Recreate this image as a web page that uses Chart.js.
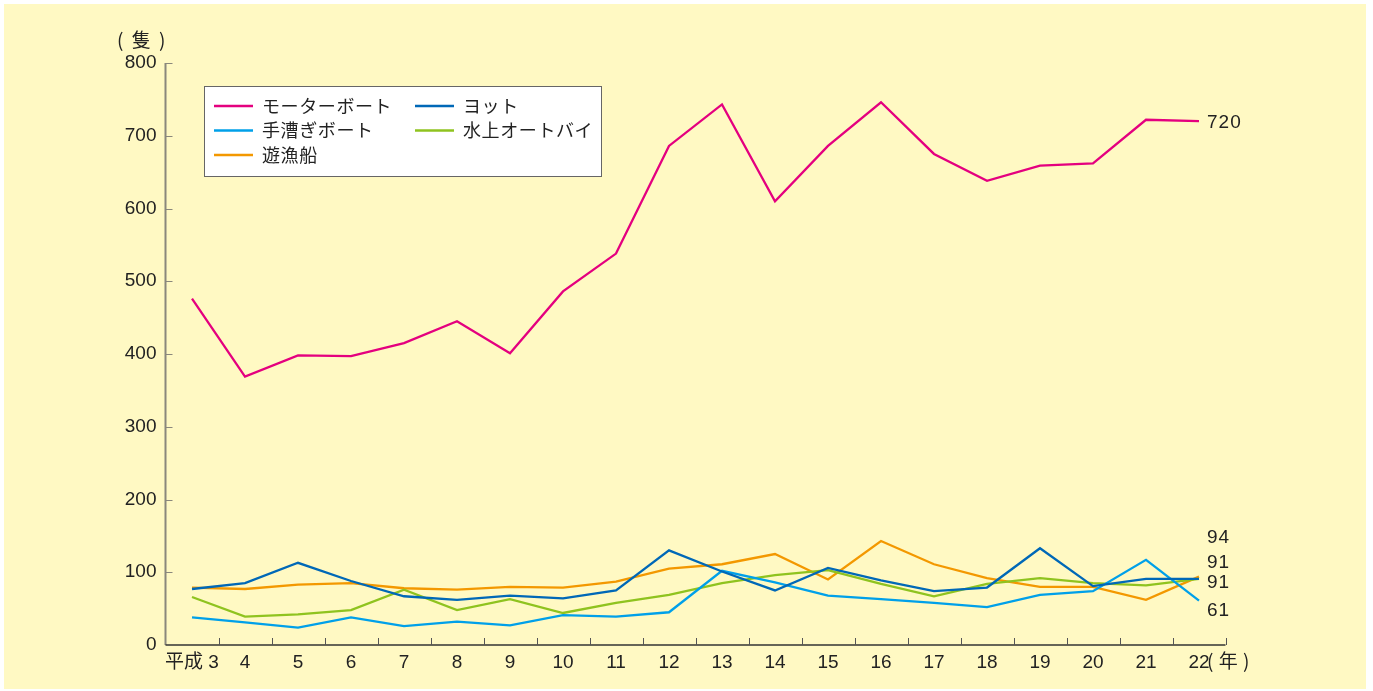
<!DOCTYPE html>
<html lang="ja">
<head>
  <meta charset="UTF-8">
  <title>船舶数の推移</title>
  <script src="https://cdn.jsdelivr.net/npm/chart.js"></script>
  <style>
    body { margin: 0; background: #fff; }
    #wrap { width: 1373px; height: 691px; }
  </style>
</head>
<body>
  <div id="wrap"><canvas id="boatChart" width="1373" height="691"></canvas></div>

  <script>
    // 年（平成）
    const years = ['平成 3', '4', '5', '6', '7', '8', '9', '10', '11', '12', '13', '14', '15', '16', '17', '18', '19', '20', '21', '22'];

    // 隻数
    const motorBoat = [476, 369, 398, 397, 415, 445, 401, 486, 538, 686, 743, 610, 686, 746, 675, 638, 659, 662, 722, 720];
    const yacht     = [77, 85, 113, 88, 67, 62, 68, 64, 75, 130, 101, 75, 106, 89, 74, 79, 133, 81, 91, 91];
    const rowBoat   = [38, 31, 24, 38, 26, 32, 27, 41, 39, 45, 102, 86, 68, 63, 58, 52, 69, 74, 117, 61];
    const jetSki    = [66, 39, 42, 48, 76, 48, 63, 44, 58, 69, 85, 96, 103, 84, 67, 84, 92, 85, 82, 91];
    const fishing   = [79, 77, 83, 85, 78, 76, 80, 79, 87, 105, 111, 125, 90, 143, 111, 92, 80, 80, 62, 94];

    const yTicks = [0, 100, 200, 300, 400, 500, 600, 700, 800];

    const numFont = "'Liberation Sans', 'Noto Sans CJK JP', sans-serif";
    const jpFont = "'Noto Sans CJK JP', 'Liberation Sans', sans-serif";

    // 背景
    const bgPlugin = {
      id: 'bg',
      beforeDraw(chart) {
        const ctx = chart.ctx;
        ctx.save();
        ctx.fillStyle = '#ffffff';
        ctx.fillRect(0, 0, chart.width, chart.height);
        ctx.fillStyle = '#fff9c3';
        ctx.fillRect(4, 4, 1362, 685);
        ctx.restore();
      }
    };

    // 軸線と内向きの目盛り
    const axisPlugin = {
      id: 'axisTicks',
      afterDatasetsDraw(chart) {
        const ctx = chart.ctx;
        const x = chart.scales.x, y = chart.scales.y;
        ctx.save();
        // y軸
        ctx.strokeStyle = '#8a887c';
        ctx.lineWidth = 2;
        ctx.beginPath();
        ctx.moveTo(x.left, y.top);
        ctx.lineTo(x.left, y.bottom);
        ctx.stroke();
        ctx.lineWidth = 1;
        yTicks.forEach(v => {
          if (v === 0) return;
          const py = Math.round(y.getPixelForValue(v)) + 0.5;
          ctx.beginPath();
          ctx.moveTo(x.left, py);
          ctx.lineTo(x.left + 7, py);
          ctx.stroke();
        });
        // x軸
        ctx.strokeStyle = '#333333';
        ctx.lineWidth = 1.5;
        ctx.beginPath();
        ctx.moveTo(x.left, y.bottom);
        ctx.lineTo(x.right, y.bottom);
        ctx.stroke();
        ctx.lineWidth = 1;
        ctx.strokeStyle = '#555555';
        const half = (x.getPixelForValue(1) - x.getPixelForValue(0)) / 2;
        years.forEach((_, i) => {
          const px = Math.round(x.getPixelForValue(i) + half) + 0.5;
          ctx.beginPath();
          ctx.moveTo(px, y.bottom);
          ctx.lineTo(px, y.bottom - 7);
          ctx.stroke();
        });
        ctx.restore();
      }
    };

    // 凡例・単位・末尾の値
    const labelPlugin = {
      id: 'labels',
      afterDraw(chart) {
        const ctx = chart.ctx;
        ctx.save();
        ctx.fillStyle = '#222';
        ctx.textBaseline = 'middle';
        ctx.textAlign = 'left';

        ctx.font = '19px ' + jpFont;
        ctx.letterSpacing = '2px';
        ctx.fillText('( 隻 )', 117, 40);
        ctx.letterSpacing = '0.5px';
        ctx.fillText('( 年 )', 1207, 661);

        // 末尾の値
        const offsets = [2, 4, 10, -16, -39];
        ctx.letterSpacing = '1px';
        ctx.font = '19px ' + numFont;
        chart.data.datasets.forEach((ds, i) => {
          const meta = chart.getDatasetMeta(i);
          const pt = meta.data[meta.data.length - 1];
          ctx.fillText(String(ds.data[ds.data.length - 1]), pt.x + 8, pt.y + offsets[i]);
        });

        // 凡例
        ctx.fillStyle = '#ffffff';
        ctx.fillRect(204, 86, 397, 90);
        ctx.strokeStyle = '#666';
        ctx.lineWidth = 1;
        ctx.strokeRect(204.5, 86.5, 397, 90);
        ctx.font = '18px ' + jpFont;
        ctx.letterSpacing = '0.6px';
        chart.data.datasets.forEach((ds, i) => {
          const col = i % 2, row = Math.floor(i / 2);
          const lx = col === 0 ? 214 : 415;
          const ly = 106 + row * 24.5;
          ctx.strokeStyle = ds.borderColor;
          ctx.lineWidth = 2.5;
          ctx.beginPath();
          ctx.moveTo(lx, ly);
          ctx.lineTo(lx + 39, ly);
          ctx.stroke();
          ctx.fillStyle = '#222';
          ctx.fillText(ds.label, lx + 48, ly);
        });
        ctx.restore();
      }
    };

    const ctx = document.getElementById('boatChart').getContext('2d');
    new Chart(ctx, {
      type: 'line',
      data: {
        labels: years,
        datasets: [
          { label: 'モーターボート', data: motorBoat, borderColor: '#e4007f' },
          { label: 'ヨット', data: yacht, borderColor: '#0068b7' },
          { label: '手漕ぎボート', data: rowBoat, borderColor: '#00a0e9' },
          { label: '水上オートバイ', data: jetSki, borderColor: '#8fc31f' },
          { label: '遊漁船', data: fishing, borderColor: '#f39800' }
        ].map(d => Object.assign(d, { borderWidth: 2.3, pointRadius: 0, tension: 0, fill: false }))
      },
      options: {
        responsive: false,
        animation: false,
        layout: { padding: { left: 0, top: 63, right: 147.5, bottom: 0 } },
        plugins: {
          legend: { display: false },
          tooltip: { enabled: false }
        },
        scales: {
          x: {
            offset: true,
            grid: { display: false, drawTicks: false },
            border: { display: false },
            ticks: {
              color: '#222',
              font: { family: numFont, size: 19 },
              padding: 6,
              maxRotation: 0,
              autoSkip: false
            },
            afterFit(scale) { scale.height = 46; }
          },
          y: {
            min: 0,
            max: 800,
            grid: { display: false, drawTicks: false },
            border: { display: false },
            ticks: {
              stepSize: 100,
              color: '#222',
              font: { family: numFont, size: 19 },
              padding: 9
            },
            afterFit(scale) { scale.width = 165.5; }
          }
        }
      },
      plugins: [bgPlugin, axisPlugin, labelPlugin]
    });
  </script>
</body>
</html>
